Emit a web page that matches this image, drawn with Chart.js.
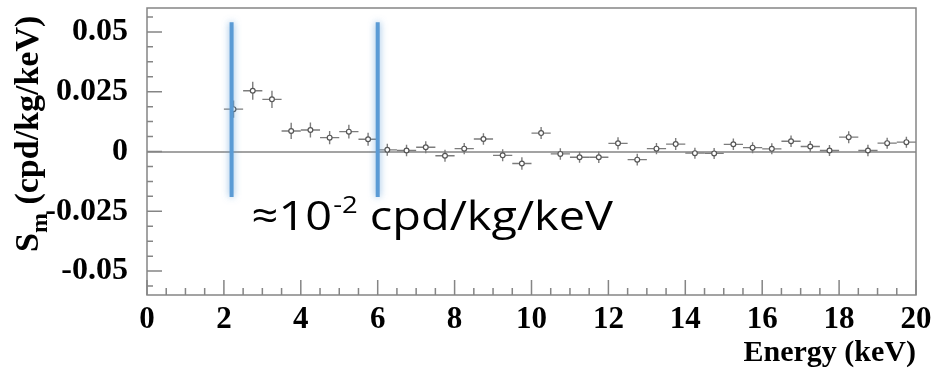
<!DOCTYPE html>
<html>
<head>
<meta charset="utf-8">
<script src="https://cdn.jsdelivr.net/npm/chart.js@4/dist/chart.umd.min.js"></script>
<style>
  body { margin: 0; background: #fff; }
  canvas { display: block; }
</style>
</head>
<body>
<canvas id="chart" width="933" height="374"></canvas>
<script>
// ========== Data ==========
const energies = [2.25, 2.75, 3.25, 3.75, 4.25, 4.75, 5.25, 5.75, 6.25, 6.75, 7.25, 7.75,
                  8.25, 8.75, 9.25, 9.75, 10.25, 10.75, 11.25, 11.75, 12.25, 12.75, 13.25, 13.75,
                  14.25, 14.75, 15.25, 15.75, 16.25, 16.75, 17.25, 17.75, 18.25, 18.75, 19.25, 19.75];
const smValues = [0.0177, 0.0254, 0.0218, 0.0086, 0.0090, 0.0058, 0.0083, 0.0051, 0.0007, 0.0004, 0.0018, -0.0018,
                  0.0012, 0.0052, -0.0016, -0.0050, 0.0077, -0.0010, -0.0024, -0.0024, 0.0034, -0.0034, 0.0012, 0.0031,
                  -0.0007, -0.0008, 0.0030, 0.0016, 0.0011, 0.0043, 0.0021, 0.0004, 0.0060, 0.0004, 0.0035, 0.0039];
const smErrors = [0.0036, 0.0038, 0.0036, 0.0034, 0.0031, 0.0028, 0.0029, 0.0027, 0.0025, 0.0024, 0.0025, 0.0025,
                  0.0024, 0.0024, 0.0025, 0.0026, 0.0025, 0.0024, 0.0023, 0.0024, 0.0026, 0.0025, 0.0024, 0.0025,
                  0.0023, 0.0023, 0.0024, 0.0023, 0.0023, 0.0024, 0.0023, 0.0023, 0.0025, 0.0024, 0.0023, 0.0023];
const binHalfWidth = 0.25;

const xTickValues = [0, 2, 4, 6, 8, 10, 12, 14, 16, 18, 20];
const yTickValues = [-0.05, -0.025, 0, 0.025, 0.05];
const yTickLabels = ['-0.05', '-0.025', '0', '0.025', '0.05'];

// the two blue marker lines and their vertical extent
const markerEnergies = [2.2, 6.0];
const markerTop = 0.054;
const markerBottom = -0.019;

const blue = '#5b9bd5';
const serif = '"Liberation Serif", "Times New Roman", serif';

// ----- error bars, drawn under the points -----
const errorBars = {
    id: 'errorBars',
    beforeDatasetsDraw(chart) {
        const c = chart.ctx, xs = chart.scales.x, ys = chart.scales.y;
        c.save();
        c.strokeStyle = '#7c7c7c';
        c.lineWidth = 1.4;
        energies.forEach((e, i) => {
            const px = xs.getPixelForValue(e), py = ys.getPixelForValue(smValues[i]);
            c.beginPath();
            c.moveTo(xs.getPixelForValue(e - binHalfWidth), py);
            c.lineTo(xs.getPixelForValue(e + binHalfWidth), py);
            c.moveTo(px, ys.getPixelForValue(smValues[i] - smErrors[i]));
            c.lineTo(px, ys.getPixelForValue(smValues[i] + smErrors[i]));
            c.stroke();
        });
        c.restore();
    }
};

// ----- ROOT style frame with inner ticks -----
const frame = {
    id: 'frame',
    beforeDatasetsDraw(chart) {
        const c = chart.ctx, a = chart.chartArea, xs = chart.scales.x, ys = chart.scales.y;
        c.save();
        c.strokeStyle = '#858585';
        c.lineWidth = 1.5;
        c.strokeRect(a.left, a.top, a.right - a.left, a.bottom - a.top);
        c.beginPath();
        // x ticks: major every 2, 4 minor divisions
        for (let k = 0; k < xTickValues.length; k++) {
            const v = xTickValues[k];
            const p = xs.getPixelForValue(v);
            c.moveTo(p, a.bottom); c.lineTo(p, a.bottom - 15);
            if (k < xTickValues.length - 1) {
                const step = (xTickValues[k + 1] - v) / 4;
                for (let j = 1; j < 4; j++) {
                    const q = xs.getPixelForValue(v + j * step);
                    c.moveTo(q, a.bottom); c.lineTo(q, a.bottom - 7);
                }
            }
        }
        // y ticks: major every 0.025, 4 minor divisions, also past the outer labels
        const ystep = (yTickValues[1] - yTickValues[0]) / 4;
        for (let k = 0; k < yTickValues.length; k++) {
            const p = ys.getPixelForValue(yTickValues[k]);
            c.moveTo(a.left, p); c.lineTo(a.left + 15, p);
        }
        for (let v = yTickValues[0] - ystep; v < ys.max; v += ystep) {
            if (v <= ys.min) continue;
            const rel = Math.round((v - yTickValues[0]) / ystep);
            if (rel % 4 === 0) continue;
            const q = ys.getPixelForValue(v);
            c.moveTo(a.left, q); c.lineTo(a.left + 6, q);
        }
        c.stroke();
        c.restore();
    }
};

// soft glow round the blue marker lines
const glow = {
    id: 'glow',
    beforeDatasetDraw(chart, args) {
        if (args.meta.dataset && args.meta._dataset.marker) {
            chart.ctx.save();
            chart.ctx.shadowColor = 'rgba(91,155,213,0.75)';
            chart.ctx.shadowBlur = 7;
        }
    },
    afterDatasetDraw(chart, args) {
        if (args.meta.dataset && args.meta._dataset.marker) chart.ctx.restore();
    }
};

// ----- y title with subscript and the annotation text -----
const texts = {
    id: 'texts',
    afterDraw(chart) {
        const c = chart.ctx, xs = chart.scales.x, ys = chart.scales.y;
        c.save();
        // y axis title, rotated
        c.translate(38, 252);
        c.rotate(-Math.PI / 2);
        c.fillStyle = '#000';
        c.textBaseline = 'alphabetic';
        c.font = 'bold 34px ' + serif;
        c.fillText('S', 0, 0);
        let w = c.measureText('S').width;
        c.font = 'bold 24px ' + serif;
        c.fillText('m', w, 9);
        w += c.measureText('m').width;
        c.font = 'bold 34px ' + serif;
        c.fillText(' (cpd/kg/keV)', w, 0);
        c.restore();

        // annotation, stretched to the width it has in the figure
        c.save();
        c.fillStyle = '#000';
        c.textBaseline = 'alphabetic';
        const x0 = xs.getPixelForValue(2.72);
        const y = ys.getPixelForValue(-0.0327);
        const big = '41px "Open Sans", "Noto Sans", sans-serif';
        const small = '24px "Open Sans", "Noto Sans", sans-serif';
        c.font = big;
        const w1 = c.measureText('\u224810').width + 1;
        const w3 = c.measureText(' cpd/kg/keV').width;
        c.font = small;
        const w2 = c.measureText('-2').width;
        const sx = (xs.getPixelForValue(12.12) - x0) / (w1 + w2 + w3);
        c.translate(x0, y);
        c.scale(sx, 1);
        c.font = big;
        c.fillText('\u224810', 0, 0);
        c.font = small;
        c.fillText('-2', w1, -17);
        c.font = big;
        c.fillText(' cpd/kg/keV', w1 + w2, 0);
        c.restore();
    }
};

// marker line datasets
const markerSets = markerEnergies.map(e => ({
    type: 'line',
    marker: true,
    data: [{x: e, y: markerTop}, {x: e, y: markerBottom}],
    borderColor: blue,
    borderWidth: 4,
    pointRadius: 0,
    borderCapStyle: 'butt',
    order: 0
}));

const ctx = document.getElementById('chart').getContext('2d');
const myChart = new Chart(ctx, {
    type: 'scatter',
    data: {
        datasets: [
            {
                label: 'Sm',
                data: energies.map((e, i) => ({x: e, y: smValues[i]})),
                pointStyle: 'circle',
                pointRadius: 2.4,
                pointBackgroundColor: '#ffffff',
                pointBorderColor: '#555555',
                pointBorderWidth: 1.2,
                order: 2
            },
            ...markerSets
        ]
    },
    options: {
        responsive: false,
        animation: false,
        devicePixelRatio: 1,
        layout: { padding: { top: 8, right: 17, left: 0, bottom: 0 } },
        plugins: { legend: { display: false }, tooltip: { enabled: false } },
        scales: {
            x: {
                type: 'linear',
                min: 0,
                max: 20,
                afterBuildTicks: s => { s.ticks = xTickValues.map(v => ({value: v})); },
                afterFit: s => { s.height = 79; s.paddingLeft = 0; s.paddingRight = 0; },
                grid: { display: false, drawTicks: false },
                border: { display: false },
                ticks: {
                    padding: 6,
                    color: '#000',
                    font: { family: serif, size: 31, weight: 'bold' },
                    maxRotation: 0,
                    callback: v => String(v)
                },
                title: {
                    display: true,
                    text: 'Energy (keV)',
                    align: 'end',
                    color: '#000',
                    font: { family: serif, size: 30, weight: 'bold' },
                    padding: { top: 0, bottom: 3 }
                }
            },
            y: {
                type: 'linear',
                min: -0.06,
                max: 0.06,
                afterBuildTicks: s => { s.ticks = yTickValues.map(v => ({value: v})); },
                afterFit: s => { s.width = 147; s.paddingTop = 0; s.paddingBottom = 0; },
                grid: {
                    drawTicks: false,
                    color: c => (c.tick && c.tick.value === 0) ? '#a3a3a3' : 'rgba(0,0,0,0)',
                    lineWidth: 2
                },
                border: { display: false },
                ticks: {
                    padding: 19,
                    color: '#000',
                    font: { family: serif, size: 32, weight: 'bold' },
                    callback: v => yTickLabels[yTickValues.indexOf(v)]
                }
            }
        }
    },
    plugins: [errorBars, frame, glow, texts]
});
</script>
</body>
</html>
